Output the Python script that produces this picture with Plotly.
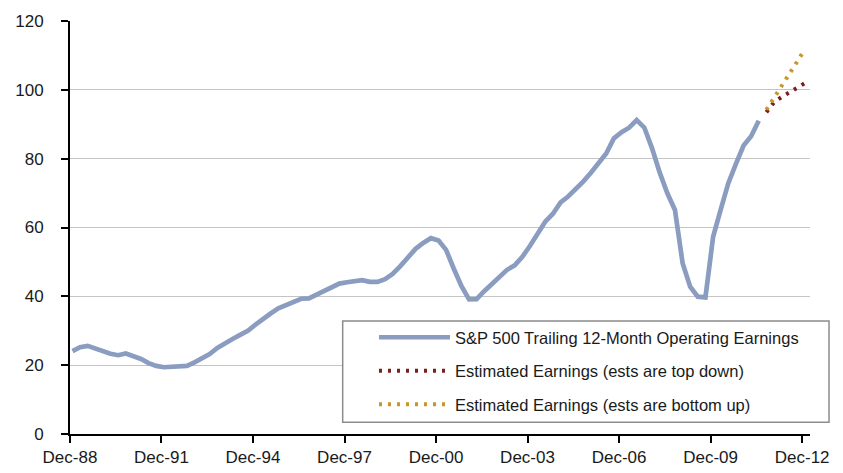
import pandas as pd
import plotly.graph_objects as go

# Quarterly dates, Dec-88 .. Jun-11
quarters = pd.date_range("1988-12-31", periods=91, freq="QE")
trailing_eps = [
    24.1, 25.2, 25.6, 24.8, 24.2, 23.3, 22.9, 23.4, 22.6, 21.8,
    20.6, 19.8, 19.4, 19.5, 19.8, 19.8, 20.8, 22.1, 23.2, 25.0,
    26.5, 27.6, 28.8, 30.0, 31.8, 33.2, 35.0, 36.5, 37.5, 38.4,
    39.3, 39.4, 40.5, 41.7, 42.7, 43.7, 44.1, 44.4, 44.7, 44.2,
    44.2, 45.0, 46.5, 48.8, 51.3, 53.8, 55.5, 56.9, 56.2, 53.5,
    48.1, 43.0, 39.1, 39.2, 41.5, 43.7, 46.0, 47.7, 49.0, 51.5,
    54.7, 58.0, 61.7, 64.0, 67.3, 69.0, 71.0, 73.4, 76.0, 78.5,
    81.5, 85.9, 87.7, 89.0, 91.2, 89.0, 83.0, 76.0, 70.0, 65.1,
    49.6, 42.8, 39.9, 39.7, 57.3, 65.1, 72.8, 78.5, 83.8, 86.5,
    91.0,
]

# Estimates, Sep-11 .. Dec-12
est_quarters = pd.date_range("2011-09-30", periods=6, freq="QE")
est_top_down = [93.5, 96.4, 97.9, 99.3, 100.6, 101.9]
est_bottom_up = [94.2, 97.6, 101.0, 104.6, 108.1, 111.7]

tick_dates = pd.date_range("1988-12-01", "2012-12-01", freq="36MS")
tick_text = [d.strftime("%b-%y") for d in tick_dates]

y_ticks = [0, 20, 40, 60, 80, 100, 120]

FONT = "Liberation Sans, Arial, sans-serif"
TXT = "#1a1a1a"

fig = go.Figure()
fig.add_trace(go.Scatter(
    x=quarters, y=trailing_eps, mode="lines",
    name="S&P 500 Trailing 12-Month Operating Earnings",
    line=dict(color="#8A9CC0", width=4.7),
    legendgroup="a",
))
fig.add_trace(go.Scatter(
    x=est_quarters, y=est_top_down, mode="lines",
    name="Estimated Earnings (ests are top down)",
    line=dict(color="#7A1F1F", width=4, dash="3px,6px"),
    legendgroup="b",
))
fig.add_trace(go.Scatter(
    x=est_quarters, y=est_bottom_up, mode="lines",
    name="Estimated Earnings (ests are bottom up)",
    line=dict(color="#C9962B", width=4, dash="3px,6px"),
    legendgroup="c",
))

# legend frame (white box with grey border)
fig.add_shape(
    type="rect", xref="paper", yref="paper",
    x0=0.3685, x1=1.0257, y0=0.0283, y1=0.2736,
    line=dict(color="#8c8c8c", width=1.5), fillcolor="white",
    layer="above",
)

fig.update_layout(
    width=843, height=473,
    margin=dict(l=70, r=33, t=21, b=39),
    paper_bgcolor="white", plot_bgcolor="white",
    font=dict(family=FONT, size=17, color=TXT),
    showlegend=True,
    legend=dict(
        x=0.4108, y=0.276, xanchor="left", yanchor="top",
        bgcolor="rgba(0,0,0,0)", borderwidth=0,
        font=dict(family=FONT, size=16.5, color=TXT),
        itemwidth=71, tracegroupgap=9, traceorder="grouped",
    ),
    xaxis=dict(
        type="date", automargin=False,
        range=["1988-12-01", "2013-03-05"],
        tickmode="array", tickvals=tick_dates, ticktext=tick_text,
        showgrid=False, showline=True, linecolor="black", linewidth=2,
        ticks="outside", ticklen=7, tickwidth=2, tickcolor="black",
        tickfont=dict(family=FONT, size=17, color=TXT),
        zeroline=False,
    ),
    yaxis=dict(
        range=[0, 120], tickvals=y_ticks, automargin=False,
        showgrid=True, gridcolor="#c4c4c4", gridwidth=1.3,
        showline=True, linecolor="black", linewidth=2,
        ticks="outside", ticklen=7, tickwidth=2, tickcolor="black",
        tickfont=dict(family=FONT, size=17, color=TXT),
        ticklabelstandoff=14,
        zeroline=False,
    ),
)

fig.write_html(
    "out.html",
    config={"displayModeBar": False},
    post_script="document.body.style.margin='0';document.body.style.overflow='hidden';",
)
